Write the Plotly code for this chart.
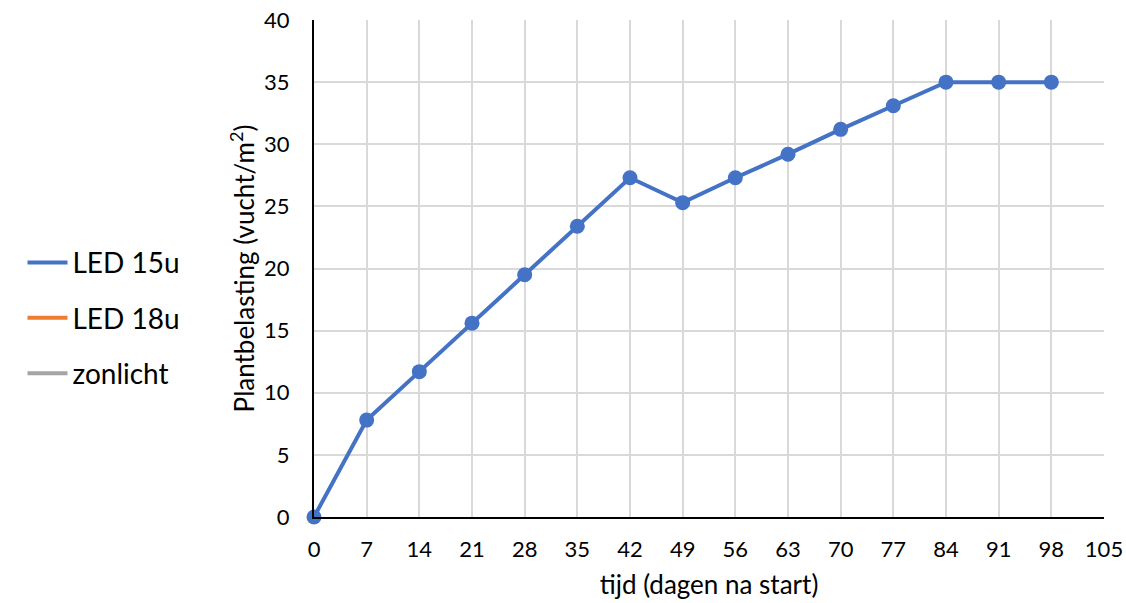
import plotly.graph_objects as go

# Measurements: days since start vs. plant load
days = [0, 7, 14, 21, 28, 35, 42, 49, 56, 63, 70, 77, 84, 91, 98]
led15 = [0, 7.8, 11.7, 15.6, 19.5, 23.4, 27.3, 25.3, 27.3, 29.2, 31.2, 33.1, 35, 35, 35]
series_names = ["LED 15u", "LED 18u", "zonlicht"]
series_colors = ["#4472C4", "#ED7D31", "#A5A5A5"]
x_ticks = list(range(0, 106, 7))
y_ticks = list(range(0, 41, 5))

font_family = "Lato, Open Sans, sans-serif"

fig = go.Figure()

# Measured series (line + markers)
fig.add_trace(go.Scatter(
    x=days, y=led15, name=series_names[0], mode="lines+markers",
    line=dict(color=series_colors[0], width=4),
    marker=dict(color=series_colors[0], size=15),
    cliponaxis=False, showlegend=False,
))
# Legend entries drawn as plain lines
for name, color, grp in zip(series_names, series_colors, ["a", "b", "c"]):
    fig.add_trace(go.Scatter(
        x=[None], y=[None], name=name, mode="lines",
        line=dict(color=color, width=4), legendgroup=grp,
    ))

grid_color = "#D9D9D9"
fig.update_layout(
    width=1126, height=603,
    paper_bgcolor="white", plot_bgcolor="white",
    margin=dict(l=314, r=22, t=20, b=86, autoexpand=False),
    font=dict(family=font_family, color="black"),
    showlegend=True,
    legend=dict(
        x=-0.369, y=0.40, xanchor="left", yanchor="middle",
        font=dict(size=28, family=font_family, color="black"),
        tracegroupgap=16, itemwidth=40,
        bgcolor="rgba(0,0,0,0)",
    ),
    xaxis=dict(
        range=[0, 105], tickvals=x_ticks, ticktext=[str(t) for t in x_ticks],
        showgrid=True, gridcolor=grid_color, gridwidth=1.5,
        showline=True, linecolor="black", linewidth=2,
        zeroline=False, ticks="", ticklabelstandoff=12, automargin=False,
        tickfont=dict(size=22, family=font_family, color="black"),
        title=dict(text="tijd (dagen na start)", font=dict(size=26, family=font_family, color="black"), standoff=14),
    ),
    yaxis=dict(
        range=[0, 40], tickvals=y_ticks, ticktext=[str(t) for t in y_ticks],
        showgrid=True, gridcolor=grid_color, gridwidth=1.5,
        showline=True, linecolor="black", linewidth=2,
        zeroline=False, ticks="", ticklabelstandoff=18, automargin=False,
        tickfont=dict(size=22, family=font_family, color="black"),
        title=dict(text="Plantbelasting (vucht/m<sup>2</sup>)", font=dict(size=26, family=font_family, color="black"), standoff=2),
    ),
)

fig.write_html("out.html")
